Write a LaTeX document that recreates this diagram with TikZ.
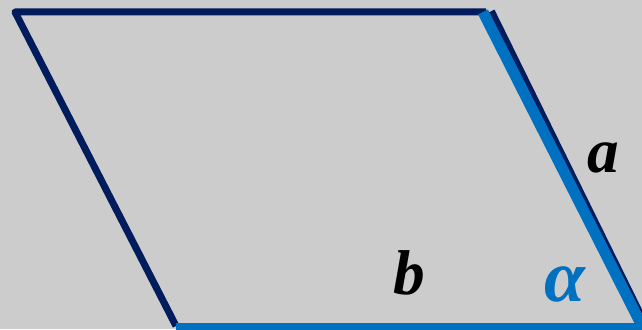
\documentclass[tikz,border=0pt]{standalone}
\usepackage{fontspec}
\setmainfont{Liberation Serif}
\definecolor{bggray}{RGB}{204,204,204}
\definecolor{navyline}{RGB}{0,28,92}
\definecolor{sideblue}{RGB}{0,112,192}

\begin{document}
\begin{tikzpicture}[
    edge/.style={line width=0.07cm, draw=navyline, line join=round},
    sidebar/.style={line width=0.11cm, draw=sideblue},
    lbl/.style={font=\fontsize{18}{20}\selectfont\bfseries\itshape}
  ]
    \fill[bggray] (0cm,0cm) rectangle (6.42cm,3.29cm);
    \useasboundingbox (0cm,0cm) rectangle (6.42cm,3.29cm);

    \coordinate (tl) at (0.15cm, 3.17cm);
    \coordinate (tr) at (4.86cm, 3.17cm);
    \coordinate (br) at (6.42cm, 0.03cm);
    \coordinate (bl) at (1.76cm, 0.03cm);

    \draw[edge] (bl) -- (tl) -- (tr);
    \draw[edge, line width=0.11cm] ([xshift=0.035cm]tr) -- ([xshift=0.02cm]br);
    \draw[sidebar, line width=0.07cm] (bl) -- (br);
    \draw[sidebar] ([xshift=-0.03cm]tr) -- (br);

    \node[lbl] (sidea) at (6.03cm, 1.71cm) {a};
    \node[lbl] (sideb) at (4.09cm, 0.56cm) {b};
    \node[lbl, text=sideblue, font=\fontsize{21}{24}\selectfont\bfseries\itshape] (angle) at (5.65cm, 0.45cm) {α};

    % \draw[help lines] (0,0) grid (6.42cm,3.29cm);
\end{tikzpicture}
\end{document}
